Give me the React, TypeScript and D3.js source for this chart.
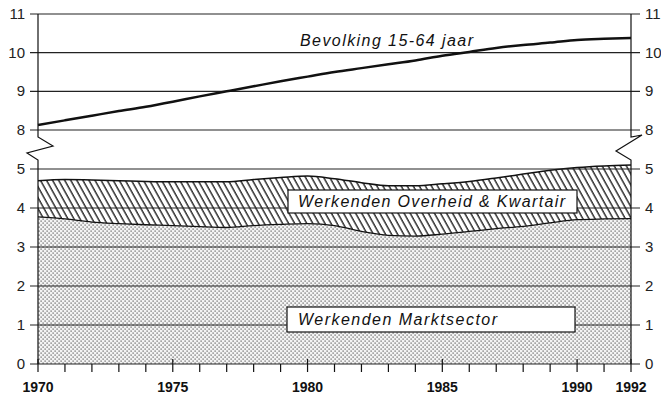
import React from "react";
import * as d3 from "d3";

const years = d3.range(1970, 1993);
const bevolking = [8.13, 8.25, 8.37, 8.49, 8.6, 8.73, 8.87, 9.0, 9.13, 9.26, 9.38, 9.5, 9.6, 9.7, 9.8, 9.92, 10.02, 10.12, 10.2, 10.26, 10.33, 10.36, 10.38];
const marktsector = [3.77, 3.72, 3.64, 3.6, 3.57, 3.55, 3.52, 3.5, 3.55, 3.58, 3.6, 3.55, 3.4, 3.3, 3.28, 3.33, 3.4, 3.47, 3.53, 3.62, 3.7, 3.72, 3.73];
const totaal = [4.7, 4.73, 4.72, 4.7, 4.68, 4.67, 4.67, 4.67, 4.73, 4.78, 4.82, 4.75, 4.65, 4.57, 4.57, 4.62, 4.68, 4.77, 4.87, 4.97, 5.04, 5.08, 5.1];
const topTicks = [8, 9, 10, 11];
const bottomTicks = [0, 1, 2, 3, 4, 5];
const yearLabels = [1970, 1975, 1980, 1985, 1990, 1992];

const W = 661, H = 402;
const x = d3.scaleLinear().domain([1970, 1992]).range([38, 631]);
const yTop = d3.scaleLinear().domain([8, 11]).range([130, 14]);
const yBot = d3.scaleLinear().domain([0, 5]).range([364, 169]);

const font = "'Liberation Sans', Arial, sans-serif";

export default function App() {
  const popLine = d3.line<number>()
    .x((_, i) => x(years[i]))
    .y(d => yTop(d))
    .curve(d3.curveMonotoneX)(bevolking) || "";

  const marktArea = d3.area<number>()
    .x((_, i) => x(years[i]))
    .y0(yBot(0))
    .y1(d => yBot(d))
    .curve(d3.curveMonotoneX)(marktsector) || "";

  const overheidArea = d3.area<number>()
    .x((_, i) => x(years[i]))
    .y0((_, i) => yBot(marktsector[i]))
    .y1(d => yBot(d))
    .curve(d3.curveMonotoneX)(totaal) || "";

  const marktTop = d3.line<number>()
    .x((_, i) => x(years[i]))
    .y(d => yBot(d))
    .curve(d3.curveMonotoneX)(marktsector) || "";
  const totaalTop = d3.line<number>()
    .x((_, i) => x(years[i]))
    .y(d => yBot(d))
    .curve(d3.curveMonotoneX)(totaal) || "";

  const xl = x(1970), xr = x(1992);
  const breakTop = yTop(8) + 7, breakBot = yBot(5) - 9;
  // zigzag breaks on both axes
  const leftAxis = `M${xl},${yTop(11)}V${breakTop}L${xl + 15},${breakTop + 9}L${xl - 11},${breakTop + 16}L${xl},${breakBot}V${yBot(0)}`;
  const rightAxis = `M${xr},${yTop(11)}V${breakTop}L${xr + 11},${breakTop - 2}L${xr - 15},${breakTop + 14}L${xr},${breakBot}V${yBot(0)}`;

  return (
    <svg width={W} height={H} style={{ position: "absolute", left: 0, top: 0, background: "#fff" }}>
      <defs>
        <pattern id="hatch" width="5.3" height="10" patternUnits="userSpaceOnUse" patternTransform="rotate(-29)">
          <rect width="5.3" height="10" fill="#fff" />
          <line x1="1" y1="0" x2="1" y2="10" stroke="#111" strokeWidth="1.3" />
        </pattern>
        <pattern id="dots" width="4" height="4" patternUnits="userSpaceOnUse">
          <rect width="4" height="4" fill="#f4f4f4" />
          <rect x="0.5" y="0.5" width="1.2" height="1.2" fill="#555" />
          <rect x="2.5" y="2.5" width="1.2" height="1.2" fill="#555" />
        </pattern>
      </defs>

      {/* areas */}
      <path d={marktArea} fill="url(#dots)" />
      <path d={overheidArea} fill="url(#hatch)" />
      <path d={marktTop} fill="none" stroke="#111" strokeWidth={1.3} />
      <path d={totaalTop} fill="none" stroke="#111" strokeWidth={1.5} />

      {/* gridlines */}
      {topTicks.map(t => (
        <line key={"gt" + t} x1={xl - 8} x2={xr + 9} y1={yTop(t)} y2={yTop(t)} stroke="#222" strokeWidth={1.1} />
      ))}
      {bottomTicks.map(t => (
        <line key={"gb" + t} x1={xl - 8} x2={xr + 9} y1={yBot(t)} y2={yBot(t)} stroke="#222" strokeWidth={1.1} />
      ))}

      {/* y labels */}
      {topTicks.concat(bottomTicks).map((t, i) => {
        const y = i < topTicks.length ? yTop(t) : yBot(t);
        return (
          <g key={"yl" + i} fontFamily={font} fontSize={15} fill="#222">
            <text x={25} y={y + 5} textAnchor="end">{t}</text>
            <text x={645} y={y + 5} textAnchor="start">{t}</text>
          </g>
        );
      })}

      {/* axes with break */}
      <path d={leftAxis} fill="none" stroke="#111" strokeWidth={1.2} />
      <path d={rightAxis} fill="none" stroke="#111" strokeWidth={1.2} />

      {/* x ticks */}
      {years.map(yr => {
        const major = yr % 5 === 0 || yr === 1992;
        return (
          <line key={"xt" + yr} x1={x(yr)} x2={x(yr)} y1={major ? yBot(0) - 5 : yBot(0)} y2={yBot(0) + 8} stroke="#111" strokeWidth={1.2} />
        );
      })}
      {yearLabels.map(yr => (
        <text key={"xl" + yr} x={x(yr)} y={392} textAnchor="middle" fontFamily={font} fontWeight="bold" fontSize={14} fill="#111">{yr}</text>
      ))}

      {/* population line */}
      <path d={popLine} fill="none" stroke="#111" strokeWidth={2.5} />

      {/* labels */}
      <text x={300} y={46} fontFamily={font} fontStyle="italic" fontSize={16} fill="#111" textLength={173} lengthAdjust="spacing">Bevolking 15-64 jaar</text>

      <rect x={288} y={190} width={289} height={23} fill="#fff" stroke="#111" strokeWidth={1.2} />
      <text x={298} y={207} fontFamily={font} fontStyle="italic" fontSize={16} fill="#111" textLength={267} lengthAdjust="spacing">Werkenden Overheid &amp; Kwartair</text>

      <rect x={287} y={307} width={288} height={25} fill="#fff" stroke="#111" strokeWidth={1.2} />
      <text x={298} y={325} fontFamily={font} fontStyle="italic" fontSize={16} fill="#111" textLength={199} lengthAdjust="spacing">Werkenden Marktsector</text>
    </svg>
  );
}
